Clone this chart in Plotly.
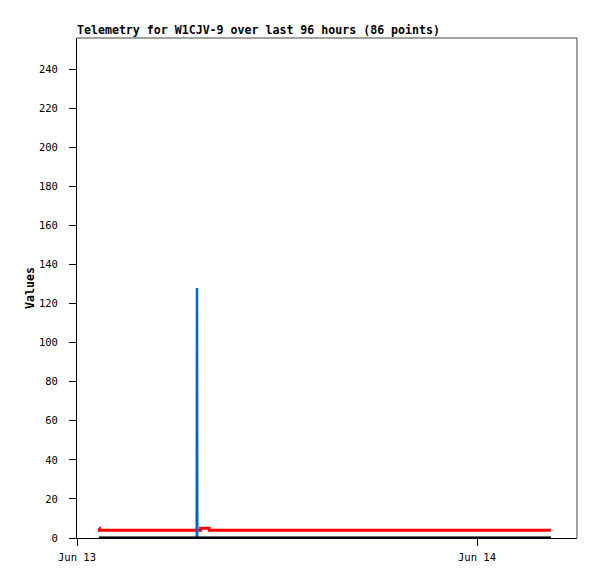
import plotly.graph_objects as go

# --- data ---
times = [
    "2024-06-13 01:19", "2024-06-13 01:21", "2024-06-13 03:00", "2024-06-13 05:00",
    "2024-06-13 07:11", "2024-06-13 07:12", "2024-06-13 07:13", "2024-06-13 07:25",
    "2024-06-13 07:30", "2024-06-13 07:52", "2024-06-13 07:56", "2024-06-13 10:00",
    "2024-06-13 14:00", "2024-06-13 18:00", "2024-06-13 22:00", "2024-06-14 02:00",
    "2024-06-14 04:26",
]
series_red = [5, 4, 4, 4, 4, 4, 4, 5, 5, 5, 4, 4, 4, 4, 4, 4, 4]
series_blue = [0, 0, 0, 0, 0, 128, 0, 0, 0, 0, 0, 0, 0, 0, 0, 0, 0]
series_black = [0, 0, 0, 0, 0, 0, 0, 0, 0, 0, 0, 0, 0, 0, 0, 0, 0]

x_tick_vals = ["2024-06-13", "2024-06-14"]
x_tick_labels = ["Jun 13", "Jun 14"]
y_tick_vals = [0, 20, 40, 60, 80, 100, 120, 140, 160, 180, 200, 220, 240]

title_text = "Telemetry for W1CJV-9 over last 96 hours (86 points)"

FONT = "DejaVu Sans Mono"

fig = go.Figure()
fig.add_trace(go.Scatter(x=times, y=series_red, mode="lines",
                         line=dict(color="#ff0000", width=3, shape="hv"), showlegend=False))
fig.add_trace(go.Scatter(x=times, y=series_blue, mode="lines",
                         line=dict(color="#0066cc", width=2.5), showlegend=False))
fig.add_trace(go.Scatter(x=times, y=series_black, mode="lines",
                         line=dict(color="#000000", width=3), showlegend=False))

fig.update_layout(
    width=597, height=579,
    margin=dict(l=69, r=28, t=30, b=49),
    paper_bgcolor="white", plot_bgcolor="white",
    font=dict(family=FONT, size=10, color="#000000"),
    title=dict(text="<b>" + title_text + "</b>", x=69 / 597, xanchor="left",
               xref="container", yref="container", y=1 - 22 / 579, yanchor="middle",
               font=dict(family=FONT, size=11.6, color="#000000")),
    xaxis=dict(type="date", range=["2024-06-13 00:00", "2024-06-14 06:00"],
               tickvals=x_tick_vals, ticktext=x_tick_labels,
               ticks="outside", ticklen=7, tickcolor="#000000", tickwidth=1,
               showgrid=False, zeroline=False, showline=True, linecolor="#000000",
               linewidth=1, tickfont=dict(family=FONT, size=10.5), ticklabelstandoff=2),
    yaxis=dict(range=[0, 256], tickvals=y_tick_vals,
               ticks="outside", ticklen=7, tickcolor="#000000", tickwidth=1,
               showgrid=False, zeroline=False, showline=True, linecolor="#000000",
               linewidth=1, tickfont=dict(family=FONT, size=10.5), ticklabelstandoff=9,
               title=dict(text="<b>Values</b>", font=dict(family=FONT, size=11.6), standoff=1)),
    shapes=[
        dict(type="line", xref="paper", yref="paper", x0=0, x1=1, y0=1, y1=1,
             line=dict(color="#444444", width=1), layer="above"),
        dict(type="line", xref="paper", yref="paper", x0=1, x1=1, y0=0, y1=1,
             line=dict(color="#444444", width=1), layer="above"),
    ],
)

fig.write_html("out.html")
